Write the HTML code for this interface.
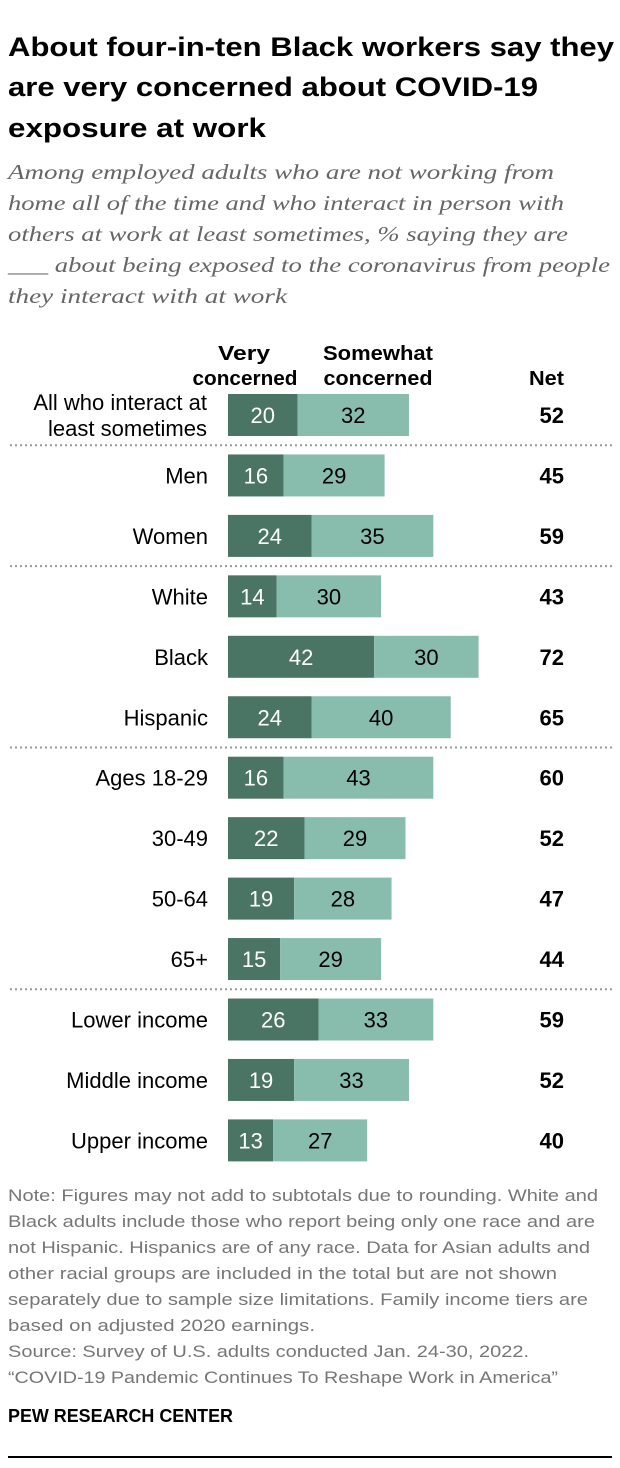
<!DOCTYPE html>
<html><head><meta charset="utf-8"><style>
body{margin:0;width:620px;height:1468px;background:#fff;position:relative;overflow:hidden;font-family:"Liberation Sans",sans-serif}
</style></head><body>
<svg id="c" width="620" height="1468" style="position:absolute;left:0;top:0">
<g font-family="Liberation Sans, sans-serif" font-weight="bold" font-size="27" fill="#000">
<text x="8" y="56" textLength="606" lengthAdjust="spacingAndGlyphs">About four-in-ten Black workers say they</text>
<text x="8" y="96" textLength="530" lengthAdjust="spacingAndGlyphs">are very concerned about COVID-19</text>
<text x="8" y="137" textLength="258" lengthAdjust="spacingAndGlyphs">exposure at work</text>
</g>
<g font-family="Liberation Serif, serif" font-style="italic" font-size="21" fill="#666">
<text x="8" y="179" textLength="546" lengthAdjust="spacingAndGlyphs">Among employed adults who are not working from</text>
<text x="8" y="210" textLength="556" lengthAdjust="spacingAndGlyphs">home all of the time and who interact in person with</text>
<text x="8" y="241" textLength="560" lengthAdjust="spacingAndGlyphs">others at work at least sometimes, % saying they are</text>
<text x="8" y="272" textLength="602" lengthAdjust="spacingAndGlyphs">___ about being exposed to the coronavirus from people</text>
<text x="8" y="303" textLength="279" lengthAdjust="spacingAndGlyphs">they interact with at work</text>
</g>
<g font-family="Liberation Sans, sans-serif" font-size="17" fill="#767676">
<text x="8" y="1201" textLength="590" lengthAdjust="spacingAndGlyphs">Note: Figures may not add to subtotals due to rounding. White and</text>
<text x="8" y="1227" textLength="587" lengthAdjust="spacingAndGlyphs">Black adults include those who report being only one race and are</text>
<text x="8" y="1253" textLength="582" lengthAdjust="spacingAndGlyphs">not Hispanic. Hispanics are of any race. Data for Asian adults and</text>
<text x="8" y="1279" textLength="549" lengthAdjust="spacingAndGlyphs">other racial groups are included in the total but are not shown</text>
<text x="8" y="1305" textLength="580" lengthAdjust="spacingAndGlyphs">separately due to sample size limitations. Family income tiers are</text>
<text x="8" y="1331" textLength="307" lengthAdjust="spacingAndGlyphs">based on adjusted 2020 earnings.</text>
<text x="8" y="1357" textLength="521" lengthAdjust="spacingAndGlyphs">Source: Survey of U.S. adults conducted Jan. 24-30, 2022.</text>
<text x="8" y="1383" textLength="550" lengthAdjust="spacingAndGlyphs">“COVID-19 Pandemic Continues To Reshape Work in America”</text>
</g>
<text x="8" y="1422" font-family="Liberation Sans, sans-serif" font-weight="bold" font-size="18" textLength="225" lengthAdjust="spacingAndGlyphs">PEW RESEARCH CENTER</text>
<rect x="8" y="1456" width="604" height="2" fill="#000"/>
<g font-family="Liberation Sans, sans-serif" font-weight="bold" font-size="20">
<text x="244" y="360" text-anchor="middle" textLength="52" lengthAdjust="spacingAndGlyphs">Very</text>
<text x="245" y="385" text-anchor="middle" textLength="105" lengthAdjust="spacingAndGlyphs">concerned</text>
<text x="378" y="360" text-anchor="middle" textLength="110" lengthAdjust="spacingAndGlyphs">Somewhat</text>
<text x="378" y="385" text-anchor="middle" textLength="109" lengthAdjust="spacingAndGlyphs">concerned</text>
<text x="564" y="385" text-anchor="end" textLength="35" lengthAdjust="spacingAndGlyphs">Net</text>
</g>
</svg>
<script>
const categories=[["All who interact at","least sometimes"],["Men"],["Women"],["White"],["Black"],["Hispanic"],["Ages 18-29"],["30-49"],["50-64"],["65+"],["Lower income"],["Middle income"],["Upper income"]];
const veryValues=[20,16,24,14,42,24,16,22,19,15,26,19,13];
const somewhatValues=[32,29,35,30,30,40,43,29,28,29,33,33,27];
const netValues=[52,45,59,43,72,65,60,52,47,44,59,52,40];
const separatorsAfter=[0,2,5,9];
const svg=document.getElementById('c');const NS='http://www.w3.org/2000/svg';
const F='"Liberation Sans",sans-serif';
const x0=228,scale=3.48,rowTop=394,rowStep=60.45,barH=42;
const xs=v=>v*scale;const ys=i=>rowTop+i*rowStep;
function el(t,a){const e=document.createElementNS(NS,t);for(const k in a)e.setAttribute(k,a[k]);svg.appendChild(e);return e;}
function txt(x,y,s,o){const e=el('text',Object.assign({x:x,y:y,'font-family':F,'font-size':21},o||{}));e.textContent=s;return e;}
categories.forEach((c,i)=>{
 const y=ys(i),cy=y+barH/2;
 const w1=xs(veryValues[i]),w2=xs(somewhatValues[i]);
 let r=el('rect',{x:x0,y:y,width:w1,height:barH,fill:'#4a7565'});
 
 r=el('rect',{x:x0+w1,y:y,width:w2,height:barH,fill:'#88bcad'});
 
 let t=txt(x0+w1/2,cy+8,String(veryValues[i]),{'text-anchor':'middle',fill:'#fff','font-size':22});
 
 t=txt(x0+w1+w2/2,cy+8,String(somewhatValues[i]),{'text-anchor':'middle',fill:'#000','font-size':22});
 
 t=txt(564,cy+8,String(netValues[i]),{'text-anchor':'end','font-weight':'bold','font-size':22});
 
 if(c.length===2){t=txt(207,cy-5,c[0],{'text-anchor':'end','font-size':22});
  t=txt(207,cy+21,c[1],{'text-anchor':'end','font-size':22});}
 else{t=txt(208,cy+8,c[0],{'text-anchor':'end','font-size':22});}
});
separatorsAfter.forEach(i=>{const y=ys(i)+barH+(rowStep-barH)/2;
 const l=el('line',{x1:10,x2:612,y1:y,y2:y,stroke:'#999','stroke-width':2,'stroke-dasharray':'2 3'});
 });
</script>
</body></html>
